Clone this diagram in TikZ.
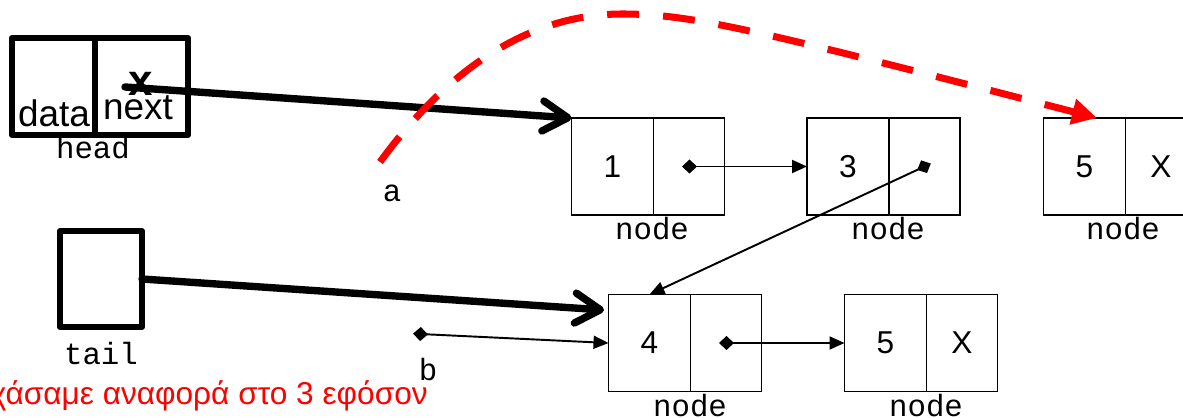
\documentclass[tikz,border=0pt]{standalone}
\usepackage{fontspec}
\setmainfont{Liberation Sans}
\newfontfamily\codefont{Liberation Mono}
\usetikzlibrary{arrows.meta,positioning}

\begin{document}
\begin{tikzpicture}[x=0.02cm,y=-0.02cm,
    cell/.style={draw, line width=1.1pt, outer sep=0pt, inner sep=0pt, minimum height=1.94cm, font=\fontsize{18}{20}\selectfont},
    datacell/.style={cell, minimum width=1.64cm},
    ptrcell/.style={cell, minimum width=1.42cm},
    bigbox/.style={draw, line width=3.4pt, line join=round, outer sep=0pt, inner sep=0pt, minimum height=1.94cm},
    caption/.style={font=\codefont\fontsize{17.5}{20}\selectfont, anchor=base},
    link/.style={line width=1.1pt, shorten <=-0.14cm, {Diamond[length=0.3cm,width=0.28cm]}-{Triangle[length=0.3cm,width=0.26cm]}},
    ref/.style={line width=4.2pt, line cap=round, -{Straight Barb[length=0.5cm,width=0.6cm,round]}}]
\useasboundingbox (0,0) rectangle (1183,418);
% Head and tail
\node[bigbox, minimum width=1.66cm] (hd) at (53.5,86.5) {};
\node[bigbox, minimum width=1.86cm, right=0pt of hd] (hn) {};
\node[font=\fontsize{21}{22}\selectfont, anchor=base] (hdtext) at (54,127) {data};
\node[font=\fontsize{21}{22}\selectfont, anchor=base] (hntext) at (138,120) {next};
\node[font=\bfseries\fontsize{25}{25}\selectfont] (cross) at (141,84) {x};
\node[caption] (headlbl) at (93,159) {head};
\node[bigbox, minimum width=1.64cm, minimum height=1.92cm] (tl) at (101,279) {};
\node[caption] (taillbl) at (101,365) {tail};
% Top list
\node[datacell] (n1d) at (612.5,166.5) {1};
\node[ptrcell, right=0pt of n1d] (n1p) {};
\node[caption] (n1lbl) at (652,240) {node};
\node[datacell] (n3d) at (848,166.5) {3};
\node[ptrcell, right=0pt of n3d] (n3p) {};
\node[caption] (n3lbl) at (888,240) {node};
\node[datacell] (n5d) at (1084.5,166.5) {5};
\node[ptrcell, right=0pt of n5d] (n5p) {X};
\node[caption] (n5lbl) at (1123,240) {node};
% Bottom list
\node[datacell] (n4d) at (649.5,343) {4};
\node[ptrcell, right=0pt of n4d] (n4p) {};
\node[caption] (n4lbl) at (690,417) {node};
\node[datacell] (n6d) at (885.5,343) {5};
\node[ptrcell, right=0pt of n6d] (n6p) {X};
\node[caption] (n6lbl) at (926,417) {node};
% Variables a and b
\node[caption] (albl) at (392,202) {a};
\node[caption] (blbl) at (428,380) {b};
\node[font=\fontsize{18}{20}\selectfont, text=red, anchor=base east] (note) at (434,404) {χάσαμε αναφορά στο 3 εφόσον};
% Pointers
\coordinate (hstart) at (125,87);
\coordinate (tailtip) at (604,310);
\coordinate (bstart) at (420,334);
\draw[ref] (hstart) -- (n1d.north west);
\draw[ref] (tl.east) -- (tailtip);
\draw[link] (n1p.center) -- (n3d.west);
\draw[link] (n3p.center) -- (n4d.north);
\draw[link] (n4p.center) -- (n6d.west);
\draw[link] (bstart) -- (n4d.west);
% Lost link
\coordinate (lostA) at (380,162);
\coordinate (lostB) at (1097,118);
\draw[red, line width=4pt, dash pattern=on 0.64cm off 0.48cm, -{Triangle[length=0.5cm,width=0.5cm]}] (lostA) .. controls (440,80) and (520,14) .. (622,14) .. controls (690,14) and (750,28) .. (lostB);
\end{tikzpicture}
\end{document}
